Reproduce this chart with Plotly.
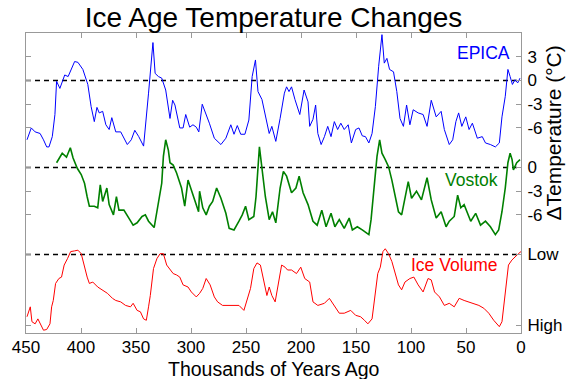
import plotly.graph_objects as go

# ---------------- data ----------------
epica_kyr = [449.1, 445.2, 441.7, 437.2, 434.1, 431.2, 429.1, 426.1, 423.7, 422.2, 419.2, 414.8, 411.7, 408.8,
             405.8, 402.8, 398.3, 393.8, 390.8, 387.9, 385.5, 383.4, 380.3, 377.4, 374.4, 372.0, 368.4, 363.9,
             357.9, 354.3, 351.1, 347.5, 343.1, 338.6, 336.4, 334.6, 332.6, 329.6, 326.6, 323.0, 319.1, 316.7,
             314.6, 310.2, 307.2, 304.8, 301.2, 298.2, 295.2, 292.9, 289.8, 286.2, 283.3, 278.8, 272.8, 268.3,
             263.8, 260.9, 257.9, 254.8, 251.0, 247.4, 244.4, 241.4, 239.1, 235.5, 232.4, 228.9, 226.5, 222.9,
             219.0, 215.1, 213.1, 210.9, 208.6, 205.5, 201.1, 197.2, 193.6, 192.1, 189.1, 186.7, 184.7, 181.7,
             178.7, 175.7, 172.7, 169.7, 166.7, 163.8, 160.7, 157.1, 154.2, 150.3, 147.3, 144.3, 141.4, 138.3,
             135.4, 132.4, 129.4, 126.4, 124.3, 121.9, 119.5, 115.9, 112.9, 110.0, 106.9, 104.0, 101.0, 98.0,
             93.5, 89.0, 85.4, 81.6, 77.1, 72.6, 69.7, 65.2, 62.1, 59.2, 56.7, 53.8, 50.2, 47.2, 44.2, 39.7,
             35.2, 32.3, 27.8, 23.3, 19.7, 17.3, 14.3, 11.9, 9.9, 7.8, 5.4, 3.0, 0.9]
epica_temp = [-7.5, -6.0, -6.5, -6.7, -7.5, -8.4, -8.4, -7.1, -4.3, -0.1, -1.0, 0.7, 0.5, 1.4,
              2.4, 2.3, 1.4, -0.5, -3.3, -5.2, -3.4, -4.1, -3.9, -5.6, -6.2, -4.7, -6.5, -6.5,
              -8.1, -7.5, -6.3, -7.1, -8.3, -1.6, 1.8, 4.8, 0.9, 0.5, 0.3, -1.2, -4.8, -2.5,
              -3.1, -6.0, -6.0, -4.3, -5.9, -5.6, -5.9, -6.5, -3.0, -4.3, -5.4, -7.3, -8.1, -7.3,
              -5.6, -6.8, -5.7, -6.8, -6.8, -5.0, 0.5, 2.6, -1.4, -2.4, -4.6, -6.7, -5.8, -7.7,
              -4.8, -1.6, -0.8, -1.4, -0.8, -2.4, -4.3, -1.2, -2.7, -5.8, -4.9, -3.1, -6.7, -8.1,
              -7.1, -5.8, -7.1, -5.2, -6.2, -5.4, -6.2, -5.6, -7.9, -6.2, -6.0, -7.0, -7.1, -7.9,
              -6.7, -3.3, 1.8, 5.8, 2.2, 2.8, 1.4, 1.1, -1.4, -4.8, -5.8, -3.1, -5.6, -3.7,
              -4.1, -4.3, -5.8, -2.5, -4.6, -3.9, -6.2, -8.1, -7.5, -5.2, -4.1, -5.8, -4.6, -6.2, -5.4, -7.3,
              -7.1, -7.9, -8.1, -8.4, -7.9, -4.6, -2.0, 1.4, 0.5, -0.5, 0.1, -0.3, 0.3]

vostok_kyr = [422.2, 417.1, 413.2, 409.7, 407.2, 403.4, 399.8, 396.8, 394.4, 392.4, 387.9, 384.8, 382.5, 380.3,
              376.5, 374.4, 370.5, 367.8, 365.5, 361.0, 356.5, 352.6, 349.0, 344.5, 341.5, 338.6, 333.5, 329.6,
              326.6, 325.1, 323.0, 320.6, 319.1, 316.2, 313.1, 308.6, 305.7, 302.7, 299.7, 295.2, 293.1, 292.2,
              289.3, 286.2, 283.3, 280.3, 276.7, 272.8, 268.3, 265.3, 260.9, 256.4, 253.4, 250.4, 247.4, 242.9,
              240.9, 237.8, 235.5, 232.4, 228.9, 225.9, 222.9, 219.0, 216.0, 213.1, 208.6, 204.6, 201.7, 198.1,
              193.6, 189.1, 185.3, 181.1, 177.2, 172.7, 169.2, 165.2, 160.7, 156.2, 153.3, 148.8, 144.3, 138.3,
              136.3, 133.8, 130.9, 128.5, 126.4, 123.4, 120.4, 117.4, 114.7, 111.4, 108.5, 105.8, 102.5, 99.5,
              95.0, 90.5, 85.4, 81.6, 77.1, 72.6, 68.1, 65.2, 60.7, 57.6, 54.7, 51.7, 48.7, 45.7, 41.2, 36.8,
              32.3, 27.8, 23.3, 20.3, 17.3, 14.3, 11.9, 9.9, 8.1, 6.9, 3.9, 0.9]
vostok_temp = [0.6, 1.8, 1.3, 2.5, 1.2, -0.1, -0.9, -2.0, -3.7, -4.9, -4.9, -5.1, -2.2, -4.3,
               -2.6, -4.7, -6.0, -3.7, -5.4, -5.4, -6.4, -7.3, -7.0, -6.2, -6.0, -6.8, -7.6, -4.3,
               -2.0, 1.4, 3.5, 2.2, 0.6, 0.3, -0.7, -2.6, -4.9, -1.6, -2.8, -4.5, -5.6, -3.0,
               -5.1, -6.0, -4.9, -4.3, -2.6, -3.9, -5.8, -7.7, -7.9, -6.8, -6.0, -4.9, -6.6, -6.2,
               -3.7, 2.6, -0.3, -3.7, -6.6, -5.6, -7.0, -2.6, -0.5, -1.1, -3.2, -2.6, -1.1, -3.2,
               -4.7, -6.8, -7.3, -5.4, -7.5, -5.8, -7.5, -6.6, -7.7, -6.4, -7.9, -7.5, -7.9, -8.5,
               -6.6, -2.8, 1.4, 3.5, 1.8, 1.0, 0.1, -1.6, -3.5, -5.6, -6.0, -4.1, -1.8, -3.9,
               -3.0, -4.1, -1.3, -4.1, -6.4, -5.6, -7.5, -6.8, -6.2, -3.5, -5.1, -4.7, -5.8, -6.8, -5.8, -7.3,
               -6.8, -7.5, -8.5, -7.9, -5.6, -2.6, 0.6, 1.8, 1.0, -0.3, 0.6, 1.0]

# relative ice volume: 0 = "Low", 1 = "High"
ice_kyr = [449.1, 446.1, 444.6, 441.7, 439.2, 436.3, 434.1, 431.2, 428.2, 426.7, 425.2, 423.1, 420.1, 417.7,
           415.3, 412.3, 409.4, 405.8, 402.8, 399.8, 397.4, 394.4, 392.4, 389.3, 384.8, 380.3, 375.9, 371.4,
           368.4, 363.9, 359.5, 355.0, 352.6, 349.0, 346.0, 343.1, 340.6, 338.6, 337.0, 334.1, 331.0, 328.1,
           325.1, 322.1, 319.1, 316.2, 313.1, 310.2, 307.2, 302.7, 299.7, 295.2, 292.2, 289.3, 286.2, 282.6,
           278.8, 275.8, 271.3, 266.9, 262.4, 256.4, 251.9, 248.9, 245.9, 242.9, 240.0, 236.9, 234.0, 231.0,
           228.9, 226.5, 223.5, 220.5, 217.6, 214.5, 212.2, 208.6, 204.1, 200.2, 196.6, 192.1, 189.1, 184.7,
           178.7, 174.2, 169.7, 165.2, 160.7, 154.8, 150.3, 145.8, 142.3, 139.2, 135.4, 132.9, 130.2, 127.9,
           125.5, 123.4, 120.4, 117.4, 114.5, 111.4, 108.5, 105.5, 101.0, 97.4, 93.5, 89.0, 84.5, 81.6, 78.6,
           74.1, 69.7, 65.2, 60.7, 56.2, 51.7, 47.2, 42.8, 38.3, 33.8, 29.3, 24.8, 19.7, 17.3, 14.3, 11.4,
           8.3, 5.4, 2.4, 0.0]
ice_volume = [0.88, 0.74, 0.95, 0.98, 0.91, 1.00, 1.07, 1.06, 0.98, 0.74, 0.65, 0.41, 0.34, 0.32,
              0.15, 0.06, -0.04, -0.05, -0.06, -0.01, 0.15, 0.32, 0.41, 0.39, 0.46, 0.50, 0.55, 0.62,
              0.65, 0.67, 0.72, 0.74, 0.69, 0.79, 0.81, 0.91, 0.93, 0.74, 0.58, 0.20, 0.06, -0.01,
              -0.01, 0.15, 0.22, 0.27, 0.29, 0.32, 0.43, 0.46, 0.53, 0.60, 0.55, 0.48, 0.34, 0.43,
              0.60, 0.67, 0.72, 0.72, 0.71, 0.72, 0.79, 0.65, 0.48, 0.20, 0.12, 0.15, 0.34, 0.58,
              0.46, 0.58, 0.67, 0.43, 0.15, 0.18, 0.22, 0.22, 0.27, 0.18, 0.34, 0.39, 0.67, 0.72,
              0.69, 0.62, 0.72, 0.83, 0.83, 0.79, 0.86, 0.88, 0.93, 0.98, 0.91, 0.58, 0.27, 0.18,
              -0.04, -0.08, -0.01, 0.10, 0.27, 0.43, 0.50, 0.39, 0.34, 0.32, 0.43, 0.53, 0.34, 0.36, 0.53,
              0.60, 0.72, 0.69, 0.74, 0.62, 0.65, 0.67, 0.69, 0.72, 0.76, 0.83, 0.93, 1.02, 0.95, 0.58, 0.15,
              0.08, 0.03, -0.01, -0.04]

x_ticks = [450, 400, 350, 300, 250, 200, 150, 100, 50, 0]
epica_ticks = [3, 0, -3, -6]
vostok_ticks = [0, -3, -6]
ice_ticks = ["Low", "High"]

# ---------------- layout of the stacked panels ----------------
VOSTOK_OFFSET = -11.0      # vertical shift of the Vostok curve (in degC units)
ICE_LOW = -22.0            # position of "Low" ice volume
ICE_SPAN = 8.96            # distance between "Low" and "High"

v_y = [t + VOSTOK_OFFSET for t in vostok_temp]
i_y = [ICE_LOW - v * ICE_SPAN for v in ice_volume]

tickvals = epica_ticks + [t + VOSTOK_OFFSET for t in vostok_ticks] + [ICE_LOW, ICE_LOW - ICE_SPAN]
ticktext = [str(t) for t in epica_ticks] + [str(t) for t in vostok_ticks] + ice_ticks

fig = go.Figure()
for y0 in [0, VOSTOK_OFFSET, ICE_LOW]:
    fig.add_trace(go.Scatter(x=[450, 0], y=[y0, y0], mode="lines",
                             line=dict(color="black", width=1.5, dash="5px,4px"),
                             hoverinfo="skip", showlegend=False))
fig.add_trace(go.Scatter(x=epica_kyr, y=epica_temp, mode="lines",
                         line=dict(color="#0000ff", width=1), showlegend=False))
fig.add_trace(go.Scatter(x=vostok_kyr, y=v_y, mode="lines",
                         line=dict(color="#008000", width=1.6), showlegend=False))
fig.add_trace(go.Scatter(x=ice_kyr, y=i_y, mode="lines",
                         line=dict(color="#ff0000", width=1), showlegend=False))

FONT = "Liberation Sans, Arial, sans-serif"
axis_common = dict(showline=True, linecolor="#999999", linewidth=1, mirror="ticks",
                   ticks="inside", ticklen=5, tickcolor="#999999", showgrid=False, zeroline=False,
                   tickfont=dict(family=FONT, size=17, color="black"))

fig.update_layout(
    width=574, height=379,
    margin=dict(l=24, r=48, t=33, b=46),
    paper_bgcolor="white", plot_bgcolor="white",
    title=dict(text="Ice Age Temperature Changes", x=0.5, xref="paper", y=0.955, yref="container",
               xanchor="center", yanchor="middle", font=dict(family=FONT, size=28, color="black")),
    xaxis=dict(range=[450, 0], tickvals=x_ticks, ticktext=[str(t) for t in x_ticks],
               ticklabelstandoff=-1, **axis_common),
    yaxis=dict(range=[-31.94, 6.01], side="right", tickvals=tickvals, ticktext=ticktext,
               ticklabelstandoff=2, **axis_common),
    annotations=[
        dict(text="Thousands of Years Ago", xref="paper", yref="paper", x=0.5, y=-0.12,
             showarrow=False, xanchor="center", yanchor="middle",
             font=dict(family=FONT, size=19.5, color="black")),
        dict(text="ΔTemperature (°C)", xref="paper", yref="paper", x=1.066, y=0.667,
             textangle=-90, showarrow=False, xanchor="center", yanchor="middle",
             font=dict(family=FONT, size=21, color="black")),
        dict(text="EPICA", x=34.5, y=3.47, showarrow=False, xanchor="center", yanchor="middle",
             font=dict(family=FONT, size=17.5, color="#0000ff")),
        dict(text="Vostok", x=45.0, y=-12.59, showarrow=False, xanchor="center", yanchor="middle",
             font=dict(family=FONT, size=17.5, color="#008000")),
        dict(text="Ice Volume", x=60.7, y=-23.32, showarrow=False, xanchor="center", yanchor="middle",
             font=dict(family=FONT, size=17.5, color="#ff0000")),
    ],
)

fig.write_html("out.html", post_script="document.body.style.margin='0';",
               config={"displayModeBar": False})
